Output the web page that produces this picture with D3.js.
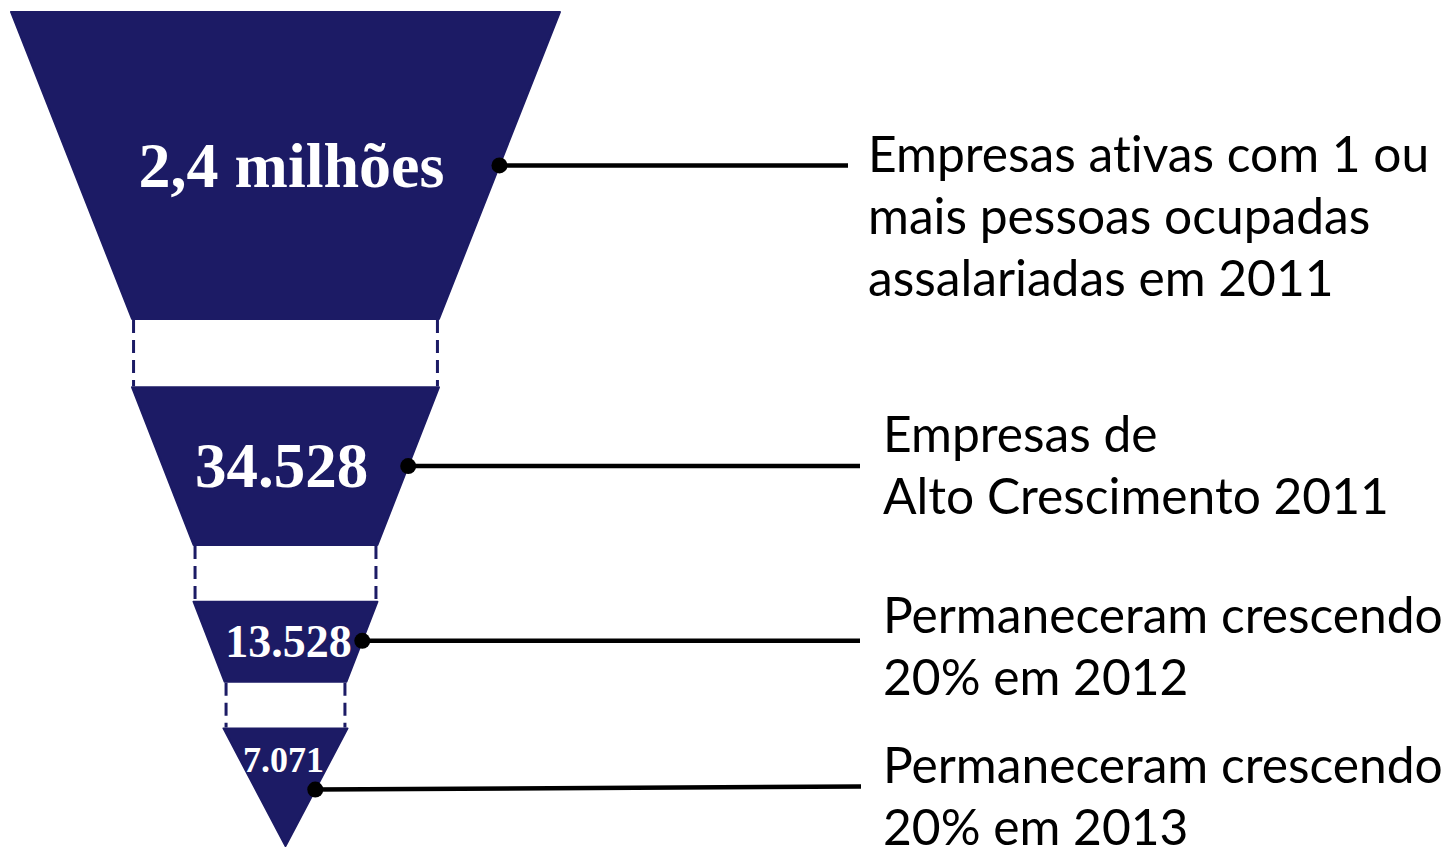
<!DOCTYPE html>
<html>
<head>
<meta charset="utf-8">
<script src="https://cdn.jsdelivr.net/npm/d3@7"></script>
<style>
  html, body { margin: 0; padding: 0; background: #fff; }
  svg { display: block; }
</style>
</head>
<body>
<div id="chart"></div>
<script>
// Funnel of high-growth firms: one trapezoid per stage, value inside,
// description on the right joined by a callout line.

const stageValues = ["2,4 milhões", "34.528", "13.528", "7.071"];
const stageDescriptions = [
  ["Empresas ativas com 1 ou", "mais pessoas ocupadas", "assalariadas em 2011"],
  ["Empresas de", "Alto Crescimento 2011"],
  ["Permaneceram crescendo", "20% em 2012"],
  ["Permaneceram crescendo", "20% em 2013"],
];

// funnel shape, in scale units: y 0..1 top to apex, w = half width (1 = top)
const shape = [
  { y0: 0,     y1: 0.368, w0: 1,     w1: 0.559, anchor: 0.50, labelAt: 0.50, size: 64, dx: 6,  textX: 868, lineEnd: 848, textDy: 7 },
  { y0: 0.450, y1: 0.639, w0: 0.559, w1: 0.335, anchor: 0.50, labelAt: 0.50, size: 63, dx: -4, textX: 883, lineEnd: 860, textDy: -14 },
  { y0: 0.707, y1: 0.803, w0: 0.335, w1: 0.222, anchor: 0.49, labelAt: 0.50, size: 46, dx: 3,  textX: 883, lineEnd: 860, textDy: -8 },
  { y0: 0.859, y1: 1,     w0: 0.226, w1: 0,     anchor: 0.52, labelAt: 0.27, size: 36, dx: -2, textX: 883, lineEnd: 861, textDy: -7, endDy: -3 },
];

const width = 1450, height = 847;
const NAVY = "#1c1b65";
const lineH = 62;

const svg = d3.select("#chart").append("svg")
  .attr("width", width).attr("height", height)
  .attr("viewBox", `0 0 ${width} ${height}`);

const x = d3.scaleLinear().domain([-1, 1]).range([11, 560]);
const y = d3.scaleLinear().domain([0, 1]).range([12, 846]);

const seg = shape.map((s, i) => ({ ...s, value: stageValues[i], desc: stageDescriptions[i] }));

// right edge at a fraction t down a segment
const edgeAt = (s, t) => [x(s.w0 + (s.w1 - s.w0) * t), y(s.y0 + (s.y1 - s.y0) * t)];

// trapezoids
const poly = d3.line().curve(d3.curveLinearClosed);
svg.append("g").selectAll("path").data(seg).join("path")
  .attr("d", (s) => poly([
    [x(-s.w0), y(s.y0)], [x(s.w0), y(s.y0)],
    [x(s.w1), y(s.y1)], [x(-s.w1), y(s.y1)],
  ]))
  .attr("fill", NAVY)
  .attr("stroke", NAVY).attr("stroke-width", 2).attr("stroke-linejoin", "round");

// dashed connectors between stages
const gaps = seg.slice(0, -1).map((s, i) => ({ w: s.w1, y0: s.y1, y1: seg[i + 1].y0 }));
svg.append("g").selectAll("line")
  .data(gaps.flatMap((g) => [{ ...g, side: -1 }, { ...g, side: 1 }]))
  .join("line")
  .attr("x1", (g) => x(g.side * g.w) - g.side * 1.5).attr("x2", (g) => x(g.side * g.w) - g.side * 1.5)
  .attr("y1", (g) => y(g.y0) + 1).attr("y2", (g) => y(g.y1) - 1)
  .attr("stroke", NAVY).attr("stroke-width", 3).attr("stroke-dasharray", "13,7");

// values inside the funnel
svg.append("g").selectAll("text").data(seg).join("text")
  .attr("x", (s) => x(0) + s.dx)
  .attr("y", (s) => y(s.y0 + (s.y1 - s.y0) * s.labelAt))
  .attr("text-anchor", "middle")
  .attr("dominant-baseline", "central")
  .attr("fill", "#fff")
  .style("font-family", "'Liberation Serif', 'Times New Roman', serif")
  .style("font-weight", 700)
  .style("font-size", (s) => s.size + "px")
  .text((s) => s.value);

// callout lines + dots
const callouts = svg.append("g");
seg.forEach((s) => {
  const [cx, cy] = edgeAt(s, s.anchor);
  callouts.append("line")
    .attr("x1", cx).attr("y1", cy)
    .attr("x2", s.lineEnd).attr("y2", cy + (s.endDy || 0))
    .attr("stroke", "#000").attr("stroke-width", 4.5);
  callouts.append("circle")
    .attr("cx", cx).attr("cy", cy).attr("r", 8).attr("fill", "#000");
});

// descriptions
const desc = svg.append("g")
  .style("font-family", "Lato, 'Open Sans', sans-serif")
  .style("font-variant-ligatures", "none")
  .attr("fill", "#000");
const blocks = desc.selectAll("text").data(seg).join("text")
  .attr("x", (s) => s.textX)
  .attr("y", (s) => edgeAt(s, s.anchor)[1] + s.textDy)
  .style("font-size", "50px");
blocks.selectAll("tspan").data((s) => s.desc.map((t) => ({ t, x: s.textX }))).join("tspan")
  .attr("x", (d) => d.x)
  .attr("dy", (d, i) => (i ? lineH : 0))
  .text((d) => d.t);

// fit the widest line ("Permaneceram crescendo") to about 560px
const probe = blocks.filter((s, i) => i === 2).select("tspan").node();
const fit = 50 * 560 / probe.getComputedTextLength();
blocks.style("font-size", fit + "px");
</script>
</body>
</html>
